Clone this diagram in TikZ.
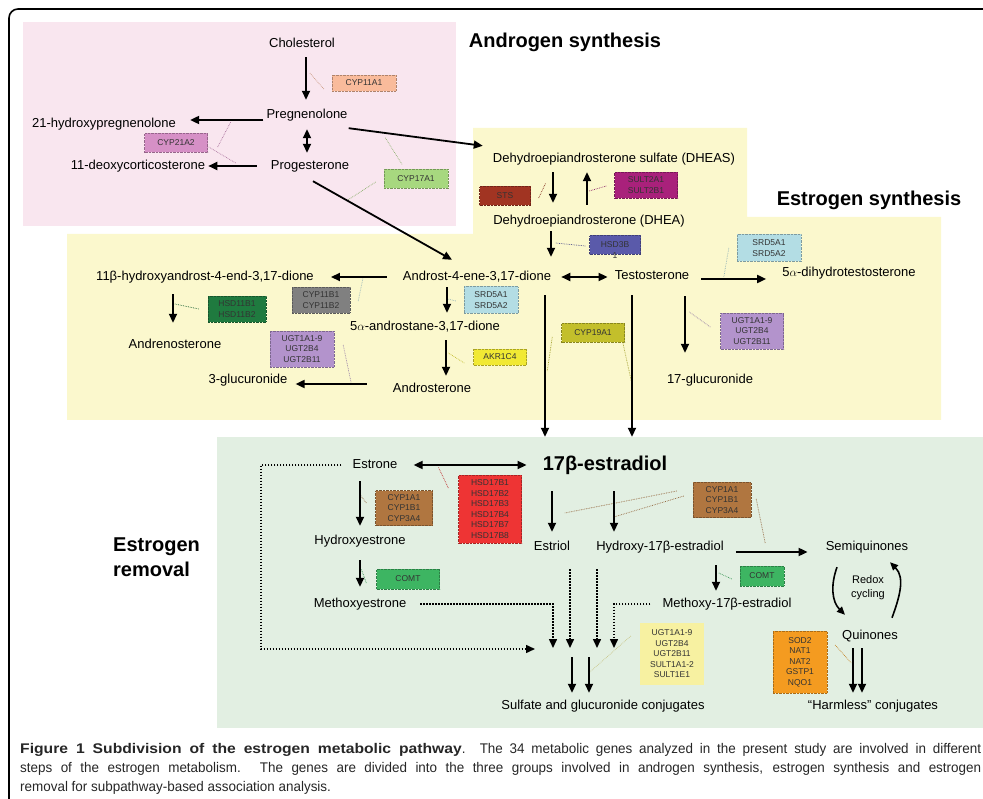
\documentclass[tikz,border=0pt]{standalone}
\usepackage{fontspec}
\setmainfont{Liberation Sans}
\newfontfamily\capfont[FakeStretch=0.96]{Liberation Sans}
\usetikzlibrary{arrows.meta,positioning}

\definecolor{pinkbg}{HTML}{F9E6EF}
\definecolor{yellowbg}{HTML}{FBF8CD}
\definecolor{greenbg}{HTML}{E2EFE2}
\definecolor{cSalmon}{HTML}{F9BB9B}
\definecolor{cOrchid}{HTML}{D690C6}
\definecolor{cLeaf}{HTML}{A7D87F}
\definecolor{cRust}{HTML}{A13422}
\definecolor{cPlum}{HTML}{A9217B}
\definecolor{cIndigo}{HTML}{5A5AAA}
\definecolor{cSky}{HTML}{B3DDE4}
\definecolor{cSlate}{HTML}{808080}
\definecolor{cForest}{HTML}{1F7A3F}
\definecolor{cLilac}{HTML}{B393CC}
\definecolor{cLemon}{HTML}{F1E934}
\definecolor{cOlive}{HTML}{C3BF2B}
\definecolor{cTan}{HTML}{B07640}
\definecolor{cScarlet}{HTML}{EE3434}
\definecolor{cJade}{HTML}{3DB562}
\definecolor{cCream}{HTML}{F7F1A1}
\definecolor{cAmber}{HTML}{F49B20}

\newcommand{\genefont}{\fontsize{8.5}{10.5}\selectfont}
\newcommand{\metfont}{\fontsize{13}{15}\selectfont}
\newcommand{\headfont}{\fontsize{20}{25}\selectfont\bfseries}
\newcommand{\captionfont}{\capfont\fontsize{14}{19}\selectfont}
\newcommand{\capbold}[1]{{\bfseries\addfontfeature{FakeStretch=1.12}#1}}

\begin{document}
\begin{tikzpicture}[x=1pt, y=-1pt,
  met/.style = {font=\metfont, inner sep=3pt, text height=9.5pt, text depth=2.5pt},
  gene/.style = {draw=#1!70!black, fill=#1, densely dotted, font=\genefont, text=black!80, align=center, inner sep=0pt},
  link/.style = {densely dotted, line width=0.7pt, draw=#1!80!black},
  arr/.style = {-{Triangle[length=9pt,width=8pt]}, line width=1.8pt},
  darr/.style = {{Triangle[length=9pt,width=8pt]}-{Triangle[length=9pt,width=8pt]}, line width=1.8pt},
  dotarr/.style = {-{Triangle[length=9pt,width=8pt]}, line width=1.5pt, dash pattern=on 1.5pt off 1.5pt},
  cyc/.style = {-{Triangle[length=8pt,width=7pt]}, line width=1.6pt},
  headtext/.style = {font=\headfont, inner sep=0pt},
  captext/.style = {font=\captionfont, text=black!85, anchor=base west, inner sep=0pt}]
\useasboundingbox (0,0) rectangle (983,799);
\clip (0,0) rectangle (983,799);

% subpathway areas
\fill[pinkbg] (23,22) rectangle (456,226);
\fill[yellowbg] (473,128) -- (747,128) -- (747,217) -- (941,217) -- (941,420) -- (67,420) -- (67,234) -- (473,234) -- cycle;
\fill[greenbg] (217,437) rectangle (995,728);
\draw[line width=1.6pt, rounded corners=9pt] (1010,9) -- (9,9) -- (9,830);

% headings
\node[headtext] (tandro) at (565,42) {Androgen synthesis};
\node[headtext] (testro) at (869,200) {Estrogen synthesis};
\node[headtext, align=left, anchor=west] (tremov) at (113,557) {Estrogen\\removal};

% metabolites
\node[met] (chol) at (302,44) {Cholesterol};
\node[met] (preg) at (307,115) {Pregnenolone};
\node[met] (hpreg) at (104,124) {21-hydroxypregnenolone};
\node[met] (doc) at (138,166) {11-deoxycorticosterone};
\node[met] (prog) at (310,166) {Progesterone};
\node[met] (dheas) at (614,159) {Dehydroepiandrosterone sulfate (DHEAS)};
\node[met] (dhea) at (589,221) {Dehydroepiandrosterone (DHEA)};
\node[met] (andro) at (477,277) {Androst-4-ene-3,17-dione};
\node[met] (testo) at (652,276) {Testosterone};
\node[met] (dht) at (849,273) {5$\alpha$-dihydrotestosterone};
\node[met] (ohandro) at (205,277) {11β-hydroxyandrost-4-end-3,17-dione};
\node[met] (adione) at (425,327) {5$\alpha$-androstane-3,17-dione};
\node[met] (adrenost) at (175,345) {Andrenosterone};
\node[met] (glucA) at (248,380) {3-glucuronide};
\node[met] (androst) at (432,389) {Androsterone};
\node[met] (glucB) at (710,380) {17-glucuronide};
\node[met] (estrone) at (375,465) {Estrone};
\node[met, font=\fontsize{20}{24}\selectfont\bfseries, text height=14pt, text depth=4pt] (estradiol) at (605,466) {17β-estradiol};
\node[met] (ohestrone) at (360,541) {Hydroxyestrone};
\node[met] (meestrone) at (360,604) {Methoxyestrone};
\node[met] (estriol) at (552,547) {Estriol};
\node[met] (ohestradiol) at (660,547) {Hydroxy-17β-estradiol};
\node[met] (semiq) at (867,547) {Semiquinones};
\node[met] (meestradiol) at (727,604) {Methoxy-17β-estradiol};
\node[met] (quin) at (870,636) {Quinones};
\node[met, font=\fontsize{11}{14}\selectfont, text height=, text depth=, align=center] (redox) at (868,588) {Redox\\cycling};
\node[met] (sulfconj) at (603,706) {Sulfate and glucuronide conjugates};
\node[met] (harmless) at (873,706) {``Harmless'' conjugates};

% enzymes
\node[gene=cSalmon, minimum width=64pt, minimum height=16pt] (cyp11a1) at (364,83) {CYP11A1};
\node[gene=cOrchid, minimum width=63pt, minimum height=19pt] (cyp21a2) at (176,143) {CYP21A2};
\node[gene=cLeaf, minimum width=64pt, minimum height=19pt] (cyp17a1) at (416,179) {CYP17A1};
\node[gene=cRust, minimum width=51pt, minimum height=19pt] (sts) at (505,196) {STS};
\node[gene=cPlum, minimum width=63pt, minimum height=26pt] (sult2) at (646,185) {SULT2A1\\SULT2B1};
\node[gene=cIndigo, minimum width=51pt, minimum height=19pt] (hsd3b) at (615,245) {HSD3B};
\node[font=\genefont, text=black!80, inner sep=0pt, below=-2pt of hsd3b] (hsd3bnum) {1};
\node[gene=cSky, minimum width=64pt, minimum height=27pt] (srd5aR) at (769,248) {SRD5A1\\SRD5A2};
\node[gene=cSlate, minimum width=58pt, minimum height=26pt] (cyp11b) at (321,300) {CYP11B1\\CYP11B2};
\node[gene=cForest, minimum width=58pt, minimum height=26pt] (hsd11b) at (237,309) {HSD11B1\\HSD11B2};
\node[gene=cSky, minimum width=54pt, minimum height=27pt] (srd5aM) at (491,300) {SRD5A1\\SRD5A2};
\node[gene=cLilac, minimum width=64pt, minimum height=36pt] (ugtL) at (302,349) {UGT1A1-9\\UGT2B4\\UGT2B11};
\node[gene=cLemon, minimum width=53pt, minimum height=16pt] (akr1c4) at (500,357) {AKR1C4};
\node[gene=cOlive, minimum width=63pt, minimum height=19pt] (cyp19a1) at (593,333) {CYP19A1};
\node[gene=cLilac, minimum width=63pt, minimum height=36pt] (ugtR) at (752,331) {UGT1A1-9\\UGT2B4\\UGT2B11};
\node[gene=cTan, minimum width=57pt, minimum height=35pt] (cypL) at (404,508) {CYP1A1\\CYP1B1\\CYP3A4};
\node[gene=cScarlet, minimum width=63pt, minimum height=68pt] (hsd17b) at (490,509) {HSD17B1\\HSD17B2\\HSD17B3\\HSD17B4\\HSD17B7\\HSD17B8};
\node[gene=cJade, minimum width=63pt, minimum height=20pt] (comtL) at (408,579) {COMT};
\node[gene=cTan, minimum width=58pt, minimum height=35pt] (cypR) at (722,500) {CYP1A1\\CYP1B1\\CYP3A4};
\node[gene=cJade, minimum width=44pt, minimum height=20pt] (comtR) at (762,576) {COMT};
\node[gene=cCream, draw=none, minimum width=64pt, minimum height=62pt] (ugtsult) at (672,654) {UGT1A1-9\\UGT2B4\\UGT2B11\\SULT1A1-2\\SULT1E1};
\node[gene=cAmber, minimum width=54pt, minimum height=62pt] (sod2) at (800,662) {SOD2\\NAT1\\NAT2\\GSTP1\\NQO1};

% enzyme links
\draw[link=cSalmon] (cyp11a1.west) ++(-8,6) -- ++(-14,-16);
\draw[link=cOrchid] (cyp21a2.east) ++(1,4) -- ++(27,16);
\draw[link=cOrchid] (cyp21a2.east) ++(10,4) -- ++(13,-25);
\draw[link=cLeaf] (cyp17a1.north) ++(-14,-5) -- ++(-17,-27);
\draw[link=cLeaf] (cyp17a1.west) ++(-8,3) -- ++(-28,18);
\draw[link=cRust] (sts.east) ++(8,2) -- ++(7,-15);
\draw[link=cPlum] (sult2.west) ++(-25,6) -- ++(17,-5);
\draw[link=cIndigo] (hsd3b.west) ++(-4,1) -- ++(-30,-3);
\draw[link=cSky] (srd5aR.west) ++(-8,0) -- ++(-5,29);
\draw[link=cSky] (cyp11b.east) ++(8,1) -- ++(5,-24);
\draw[link=cForest] (hsd11b.west) ++(-9,0) -- ++(-24,-5);
\draw[link=cSky] (srd5aM.west) ++(-8,1) -- ++(-8,-2);
\draw[link=cLilac] (ugtL.east) ++(9,-4) -- ++(8,38);
\draw[link=cLemon] (akr1c4.west) ++(-9,6) -- ++(-16,-10);
\draw[link=cOlive] (cyp19a1.west) ++(-9,4) -- ++(-5,34);
\draw[link=cOlive] (cyp19a1.east) ++(-2,9) -- ++(9,41);
\draw[link=cLilac] (ugtR.west) ++(-10,-4) -- ++(-21,-15);
\draw[link=cScarlet] (hsd17b.west) ++(-10,-21) -- ++(-10,-21);
\draw[link=cTan] (cypL.west) ++(-9,-5) -- ++(-6,-8);
\draw[link=cJade] (comtL.west) ++(-10,4) -- ++(-5,-14);
\draw[link=cTan] (cypR.west) ++(-16,-9) -- ++(-112,22);
\draw[link=cTan] (cypR.west) ++(-9,-4) -- ++(-70,21);
\draw[link=cTan] (cypR.east) ++(5,-1) -- ++(9,44);
\draw[link=cJade] (comtR.west) ++(-8,3) -- ++(-13,-6);
\draw[link=cCream] (ugtsult.west) ++(-9,-18) -- ++(-41,36);
\draw[link=cAmber] (sod2.east) ++(8,-17) -- ++(16,18);

% androgen synthesis
\draw[arr, shorten <=4pt, shorten >=6pt] ([xshift=4pt]chol.south) -- ([xshift=4pt]chol.south |- preg.north);
\draw[arr, shorten >=11pt] ([yshift=-5pt]preg.west) -- ([yshift=-5pt]preg.west -| hpreg.east);
\draw[darr, shorten <=5pt, shorten >=4pt] (preg.south) -- (preg.south |- prog.north);
\draw[arr, shorten <=11pt] (prog.west) -- (prog.west -| doc.east);
\draw[arr] ([xshift=-2pt,yshift=-4pt]preg.south east) -- ([xshift=-7pt,yshift=4pt]dheas.north west);
\draw[arr] ([xshift=3pt,yshift=-6pt]prog.south) -- ([xshift=-25pt,yshift=8pt]andro.north);

% estrogen synthesis
\draw[arr, shorten <=4pt, shorten >=9pt] ([xshift=-61pt]dheas.south) -- ([xshift=-61pt]dheas.south |- dhea.north);
\draw[arr, shorten <=7pt, shorten >=4pt] ([xshift=-2pt]dhea.north) -- ([xshift=-2pt]dhea.north |- dheas.south);
\draw[arr, shorten <=1pt, shorten >=11pt] ([xshift=-38pt]dhea.south) -- ([xshift=-38pt]dhea.south |- andro.north);
\draw[darr, shorten <=7pt, shorten >=4pt] (andro.east) -- (andro.east -| testo.west);
\draw[arr, shorten <=9pt, shorten >=13pt] ([yshift=-3pt]testo.east) -- ([yshift=-3pt]testo.east -| dht.west);
\draw[arr, shorten <=13pt, shorten >=14pt] (andro.west) -- (andro.west -| ohandro.east);
\draw[arr, shorten <=1pt, shorten >=5pt] ([xshift=-30pt]andro.south) -- ([xshift=-30pt]andro.south |- adione.north);
\draw[arr, shorten <=8pt, shorten >=13pt] ([xshift=-32pt]ohandro.south) -- ([xshift=-32pt]ohandro.south |- adrenost.north);
\draw[arr, shorten <=4pt, shorten >=4pt] ([xshift=21pt]adione.south) -- ([xshift=21pt]adione.south |- androst.north);
\draw[arr, shorten <=23pt, shorten >=5pt] ([yshift=5pt]androst.west) -- ([yshift=5pt]androst.west -| glucA.east);
\draw[arr, shorten <=11pt, shorten >=18pt] ([xshift=33pt]testo.south) -- ([xshift=33pt]testo.south |- glucB.north);
\draw[arr, shorten <=9pt, shorten >=17pt] ([xshift=68pt]andro.south) -- ([xshift=68pt]andro.south |- estradiol.north);
\draw[arr, shorten <=10pt, shorten >=17pt] ([xshift=-20pt]testo.south) -- ([xshift=-20pt]testo.south |- estradiol.north);

% estrogen removal
\draw[darr, shorten <=13pt, shorten >=13pt] (estrone.east) -- (estrone.east -| estradiol.west);
\draw[arr, shorten <=7pt, shorten >=6pt] (estrone.south -| ohestrone) -- (ohestrone.north);
\draw[arr, shorten <=10pt, shorten >=8pt] (ohestrone.south) -- (meestrone.north);
\draw[arr, shorten <=13pt, shorten >=6pt] (estradiol.south -| estriol) -- (estriol.north);
\draw[arr, shorten <=13pt, shorten >=6pt] ([xshift=9pt]estradiol.south) -- ([xshift=9pt]estradiol.south |- ohestradiol.north);
\draw[arr, shorten <=9pt, shorten >=15pt] ([yshift=-5pt]ohestradiol.east) -- ([yshift=-5pt]ohestradiol.east -| semiq.west);
\draw[arr, shorten <=9pt, shorten >=4pt] ([xshift=56pt]ohestradiol.south) -- ([xshift=56pt]ohestradiol.south |- meestradiol.north);
\draw[cyc] ([xshift=-30pt,yshift=-11pt]semiq.south) to[out=250,in=135] ([xshift=-25pt,yshift=12pt]quin.north);
\draw[cyc] ([xshift=22pt,yshift=9pt]quin.north) to[out=70,in=-45] ([xshift=23pt,yshift=-6pt]semiq.south);
\draw[arr, shorten <=3pt, shorten >=4pt] ([xshift=-17pt]quin.south) -- ([xshift=-17pt]quin.south |- harmless.north);
\draw[arr, shorten <=3pt, shorten >=4pt] ([xshift=-8pt]quin.south) -- ([xshift=-8pt]quin.south |- harmless.north);

% conjugation
\coordinate (loopx) at (261,649);
\coordinate (sinkA) at (535,649);
\coordinate (sinkB) at (553,648);
\coordinate (sinkC) at (570,648);
\coordinate (sinkD) at (597,648);
\coordinate (sinkE) at (614,648);
\coordinate (conjA) at (572,657);
\coordinate (conjB) at (589,657);
\draw[dotarr] ([xshift=-8pt]estrone.west) -| (loopx) -- (sinkA);
\draw[dotarr] ([xshift=11pt]meestrone.east) -| (sinkB);
\draw[dotarr] ([xshift=18pt,yshift=-13pt]estriol.south) -- (sinkC);
\draw[dotarr] ([xshift=-63pt,yshift=-13pt]ohestradiol.south) -- (sinkD);
\draw[dotarr] ([xshift=-9pt]meestradiol.west) -| (sinkE);
\draw[arr, shorten >=4pt] (conjA) -- (conjA |- sulfconj.north);
\draw[arr, shorten >=4pt] (conjB) -- (conjB |- sulfconj.north);

% caption
\node[captext] (capA) at (20,753) {\makebox[961pt][s]{\capbold{Figure 1 Subdivision of the estrogen metabolic pathway}. The 34 metabolic genes analyzed in the present study are involved in different}};
\node[captext] (capB) at (20,772) {\makebox[961pt][s]{steps of the estrogen metabolism. The genes are divided into the three groups involved in androgen synthesis, estrogen synthesis and estrogen}};
\node[captext] (capC) at (20,791) {removal for subpathway-based association analysis.};
\end{tikzpicture}
\end{document}
